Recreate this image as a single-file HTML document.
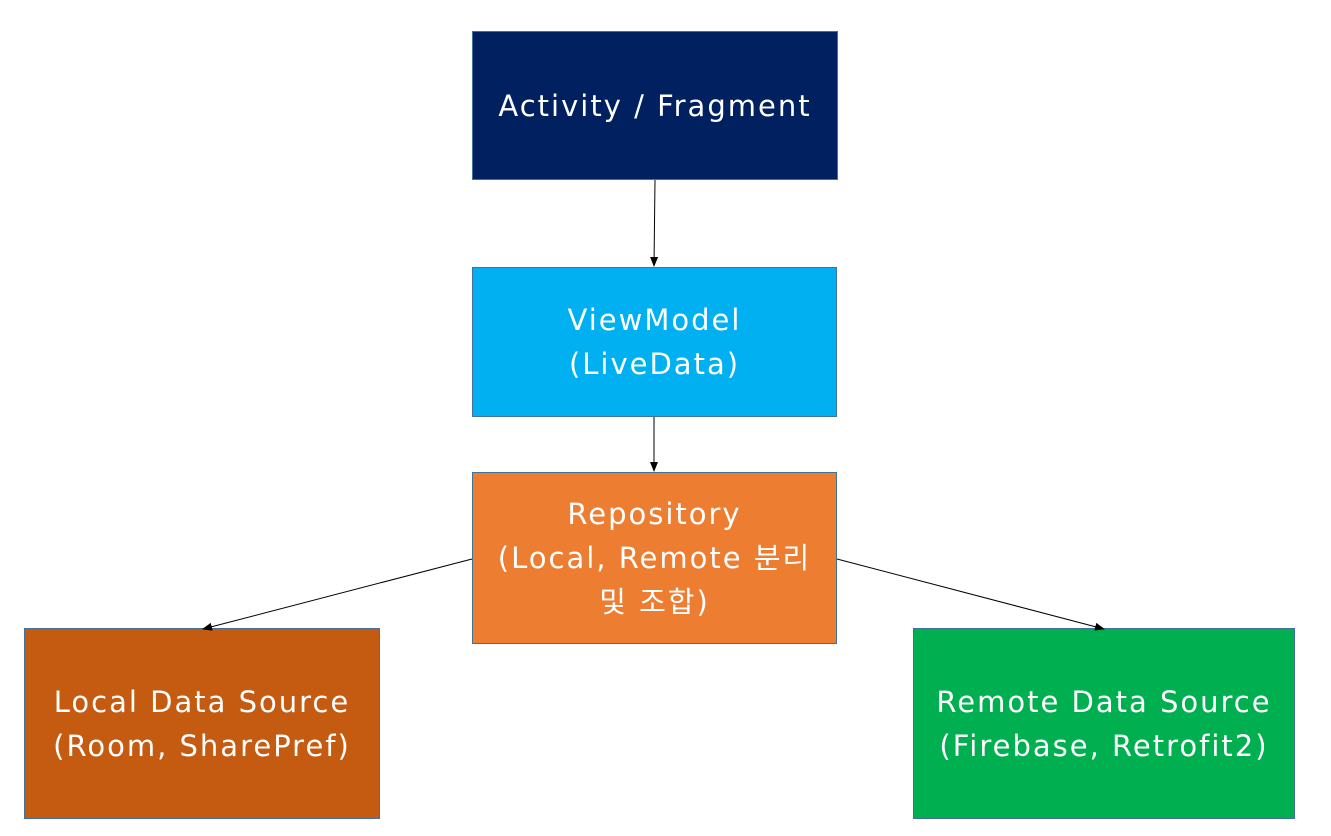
<!DOCTYPE html>
<html><head><meta charset="utf-8"><style>
html,body{margin:0;padding:0;background:#fff;width:1331px;height:836px;overflow:hidden;position:relative}
.b{position:absolute;box-sizing:border-box;border:1.5px solid #41719C;display:flex;align-items:center;justify-content:center;text-align:center;color:#fff;font-family:"DejaVu Sans","Noto Sans CJK KR",sans-serif;font-size:29px;letter-spacing:2px;line-height:44px}
svg{position:absolute;left:0;top:0}
</style></head><body>
<div class="b" style="left:472px;top:31px;width:366px;height:149px;background:#002060">Activity / Fragment</div>
<div class="b" style="left:472px;top:267px;width:365px;height:150px;background:#00B0F0">ViewModel<br>(LiveData)</div>
<div class="b" style="left:472px;top:472px;width:365px;height:172px;background:#ED7D31">Repository<br>(Local, Remote 분리<br>및 조합)</div>
<div class="b" style="left:24px;top:628px;width:356px;height:191px;background:#C55A11">Local Data Source<br>(Room, SharePref)</div>
<div class="b" style="left:913px;top:628px;width:382px;height:191px;background:#00B050">Remote Data Source<br>(Firebase, Retrofit2)</div>
<svg width="1331" height="836">
<defs><marker id="a" markerWidth="10" markerHeight="8" refX="9" refY="4" orient="auto" markerUnits="userSpaceOnUse"><path d="M0,0L10,4L0,8z" fill="#000"/></marker></defs>
<g stroke="#000" stroke-width="1" marker-end="url(#a)">
<line x1="655" y1="180" x2="654" y2="266"/>
<line x1="654" y1="417" x2="654" y2="471"/>
<line x1="472" y1="559" x2="203" y2="629"/>
<line x1="837" y1="559" x2="1104" y2="629"/>
</g></svg>
</body></html>
